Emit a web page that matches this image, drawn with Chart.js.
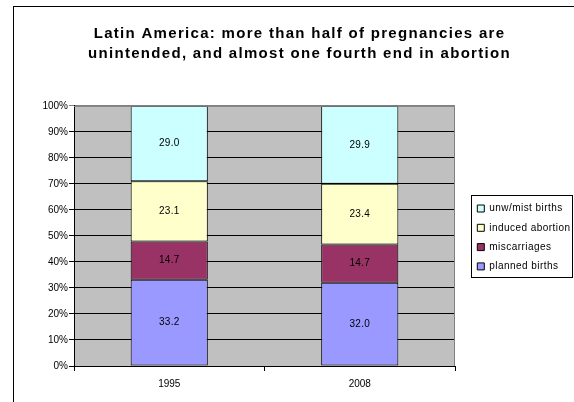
<!DOCTYPE html>
<html>
<head>
<meta charset="utf-8">
<script src="https://cdn.jsdelivr.net/npm/chart.js@4/dist/chart.umd.min.js"></script>
<style>
  html, body { margin: 0; padding: 0; background: #fff; overflow: hidden; }
  #frame { position: absolute; left: 13px; top: 6px; width: 700px; height: 500px;
           border-left: 1px solid #000; border-top: 1px solid #000; }
  #wrap { position: absolute; left: 0; top: 0; width: 574px; height: 402px; }
</style>
</head>
<body>
<div id="frame"></div>
<div id="wrap"><canvas id="chart"></canvas></div>
<script>
const years = ['1995', '2008'];
const planned_births = [33.2, 32.0];
const miscarriages = [14.7, 14.7];
const induced_abortion = [23.1, 23.4];
const unw_mist_births = [29.0, 29.9];
const title_lines = ['Latin America: more than half of pregnancies are',
                     'unintended, and almost one fourth end in abortion'];

const font_family = '"Liberation Sans", Arial, sans-serif';
const legend_width = 118; // ancho reservado a la derecha
const legend_shift = 13;  // separacion entre el area de trazado y la leyenda

// fondo gris del area de trazado y borde superior/derecho gris
const plot_background = {
  id: 'plot_background',
  beforeDraw(chart) {
    const { ctx, chartArea: a } = chart;
    ctx.save();
    ctx.fillStyle = '#C0C0C0';
    ctx.fillRect(a.left, a.top, a.right - a.left, a.bottom - a.top);
    ctx.restore();
  },
  afterDatasetsDraw(chart) {
    const { ctx, chartArea: a } = chart;
    ctx.save();
    ctx.strokeStyle = '#808080';
    ctx.lineWidth = 1;
    ctx.beginPath();
    ctx.moveTo(a.left, a.top + 0.5);
    ctx.lineTo(a.right - 0.5, a.top + 0.5);
    ctx.lineTo(a.right - 0.5, a.bottom);
    ctx.stroke();
    ctx.restore();
  }
};

// valores en el centro de cada segmento
const segment_labels = {
  id: 'segment_labels',
  afterDatasetsDraw(chart) {
    const ctx = chart.ctx;
    ctx.save();
    ctx.font = '10px ' + font_family;
    ctx.letterSpacing = '0.3px';
    ctx.fillStyle = '#000';
    ctx.textAlign = 'center';
    ctx.textBaseline = 'middle';
    chart.data.datasets.forEach((ds, i) => {
      chart.getDatasetMeta(i).data.forEach((bar, j) => {
        const y = (bar.y + bar.base) / 2;
        ctx.fillText(ds.data[j].toFixed(1), bar.x, y);
      });
    });
    ctx.restore();
  }
};

// ajustes de titulo y leyenda (espaciado de letras, ancho fijo, marco)
const text_tweaks = {
  id: 'text_tweaks',
  afterInit(chart) {
    const lg = chart.legend;
    const fit = lg.fit.bind(lg);
    lg.fit = function () { fit(); this.width = legend_width; };
    const draw_legend = lg.draw.bind(lg);
    lg.draw = function () {
      const ctx = this.ctx;
      ctx.save();
      ctx.translate(legend_shift, 1.5);
      ctx.letterSpacing = '0.45px';
      draw_legend();
      ctx.restore();
    };
    const tb = chart.titleBlock;
    const draw_title = tb.draw.bind(tb);
    tb.draw = function () {
      const ctx = this.ctx;
      ctx.save();
      ctx.letterSpacing = '1.3px';
      draw_title();
      ctx.restore();
    };
  },
  afterDraw(chart) {
    const lg = chart.legend;
    const boxes = lg.legendHitBoxes;
    if (!boxes || !boxes.length) return;
    const first = boxes[0];
    const last = boxes[boxes.length - 1];
    const ctx = chart.ctx;
    const x0 = Math.round(lg.left + 16) + 0.5;
    const x1 = Math.round(lg.right) - 0.5;
    const y0 = Math.round(first.top - 7) + 0.5;
    const y1 = Math.round(last.top + last.height + 7) + 0.5;
    ctx.save();
    ctx.strokeStyle = '#000';
    ctx.lineWidth = 1;
    ctx.strokeRect(x0, y0, x1 - x0, y1 - y0);
    ctx.restore();
  }
};

const bar_style = { borderColor: '#000', borderWidth: 1, borderSkipped: false,
                    barPercentage: 0.405, categoryPercentage: 1 };

new Chart(document.getElementById('chart'), {
  type: 'bar',
  data: {
    labels: years,
    datasets: [
      { label: 'planned births', data: planned_births, backgroundColor: '#9999FF', ...bar_style },
      { label: 'miscarriages', data: miscarriages, backgroundColor: '#993366', ...bar_style },
      { label: 'induced abortion', data: induced_abortion, backgroundColor: '#FFFFCC', ...bar_style },
      { label: 'unw/mist births', data: unw_mist_births, backgroundColor: '#CCFFFF', ...bar_style }
    ]
  },
  options: {
    responsive: true,
    maintainAspectRatio: false,
    animation: false,
    layout: { padding: { left: 26, right: 1, top: 0, bottom: 5 } },
    plugins: {
      tooltip: { enabled: false },
      title: {
        display: true,
        text: title_lines,
        color: '#000',
        font: { family: font_family, size: 15, weight: 'bold', lineHeight: 1.33 },
        padding: { top: 24, bottom: 42 }
      },
      legend: {
        position: 'right',
        fullSize: false,
        reverse: true,
        labels: {
          color: '#000',
          font: { family: font_family, size: 10 },
          boxWidth: 7,
          boxHeight: 7,
          padding: 9.3
        }
      }
    },
    scales: {
      x: {
        stacked: true,
        grid: { offset: true, drawOnChartArea: false, color: '#000', tickLength: 5 },
        border: { color: '#000' },
        ticks: { color: '#000', font: { family: font_family, size: 10 }, padding: 7 }
      },
      y: {
        stacked: true,
        min: 0,
        max: 100,
        afterFit(scale) { scale.width = 48; },
        grid: {
          color: c => (c.tick && c.tick.value === 100 ? '#808080' : '#000'),
          tickLength: 5
        },
        border: { color: '#000' },
        ticks: {
          stepSize: 10,
          color: '#000',
          padding: 1,
          font: { family: font_family, size: 10 },
          callback: v => v + '%'
        }
      }
    }
  },
  plugins: [plot_background, segment_labels, text_tweaks]
});
</script>
</body>
</html>
